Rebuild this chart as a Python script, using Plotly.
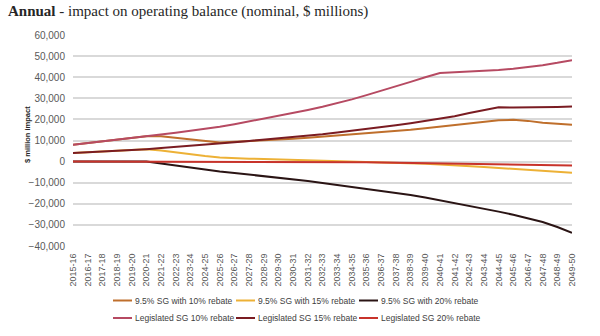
import plotly.graph_objects as go

# Financial years on the category axis
years = [
    "2015-16", "2016-17", "2017-18", "2018-19", "2019-20", "2020-21", "2021-22",
    "2022-23", "2023-24", "2024-25", "2025-26", "2026-27", "2027-28", "2028-29",
    "2029-30", "2030-31", "2031-32", "2032-33", "2033-34", "2034-35", "2035-36",
    "2036-37", "2037-38", "2038-39", "2039-40", "2040-41", "2041-42", "2042-43",
    "2043-44", "2044-45", "2045-46", "2046-47", "2047-48", "2048-49", "2049-50",
]

# Annual impact on operating balance, $ millions
sg95_rebate10 = [
    8000, 8800, 9500, 10200, 11000, 12000, 12000, 11200, 10400, 9700, 9100,
    9400, 9700, 10000, 10400, 10800, 11300, 11800, 12300, 12800, 13300, 13900,
    14500, 15100, 15800, 16500, 17300, 18100, 18900, 19600, 19800, 19300, 18400,
    17800, 17500,
]
sg95_rebate15 = [
    4100, 4400, 4700, 5000, 5400, 5900, 5300, 4300, 3400, 2600, 2000,
    1600, 1400, 1200, 1000, 900, 700, 600, 400, 200, 0, -200,
    -400, -700, -1000, -1400, -1700, -2100, -2500, -3000, -3400, -3900, -4400,
    -4800, -5300,
]
sg95_rebate20 = [
    0, 0, 0, 0, 0, 0, -900, -1900, -2900, -3800, -4700,
    -5400, -6100, -6800, -7500, -8300, -9200, -10100, -11000, -11900, -12800, -13700,
    -14700, -15800, -17000, -18300, -19500, -20800, -22200, -23700, -25200, -26800, -28600,
    -31000, -33700,
]
legislated_rebate10 = [
    8000, 8800, 9500, 10200, 11000, 12000, 12900, 13700, 14600, 15500, 16500,
    17700, 19000, 20300, 21700, 23100, 24500, 26000, 27700, 29500, 31500, 33500,
    35600, 37800, 40000, 42000, 42300, 42600, 43000, 43400, 44000, 44800, 45700,
    46800, 48100,
]
legislated_rebate15 = [
    4100, 4400, 4700, 5000, 5400, 5900, 6400, 6900, 7400, 8000, 8600,
    9200, 9800, 10400, 11000, 11600, 12300, 13000, 13800, 14600, 15400, 16300,
    17200, 18200, 19200, 20300, 21500, 23000, 24500, 25800, 25600, 25600, 25700,
    25900, 26100,
]
legislated_rebate20 = [
    0, 0, 0, 0, 0, 0, 0, 0, 0, 0, 0,
    0, 0, 0, 0, 0, 0, 0, -100, -200, -300, -400,
    -500, -600, -800, -900, -1000, -1100, -1200, -1300, -1400, -1500, -1600,
    -1800, -1900,
]

series = [
    ("9.5% SG with 10% rebate", sg95_rebate10, "#BF6F2C"),
    ("9.5% SG with 15% rebate", sg95_rebate15, "#EDB136"),
    ("9.5% SG with 20% rebate", sg95_rebate20, "#2A1414"),
    ("Legislated SG 10% rebate", legislated_rebate10, "#B64A62"),
    ("Legislated SG 15% rebate", legislated_rebate15, "#7A1C22"),
    ("Legislated SG 20% rebate", legislated_rebate20, "#C8332B"),
]

# Plot-area geometry in pixels, used to place the key below the axis
W, H = 600, 336
L, R, T, B = 73, 28, 35, 90
PW, PH = W - L - R, H - T - B


def px_x(px):
    return (px - L) / PW


def px_y(py):
    return (H - B - py) / PH


fig = go.Figure()
for name, vals, color in series:
    fig.add_trace(go.Scatter(
        x=years, y=vals, name=name, mode="lines",
        line=dict(color=color, width=2),
        showlegend=False,
    ))

# Two-row key: three entries per row
key_cols = [(113, 132, 133), (236, 255, 256), (359, 378, 379)]
key_rows = [300.5, 318]
shapes, annotations = [], []
for k, (name, _, color) in enumerate(series):
    x0, x1, xt = key_cols[k % 3]
    yy = key_rows[k // 3]
    shapes.append(dict(
        type="line", xref="paper", yref="paper",
        x0=px_x(x0), x1=px_x(x1), y0=px_y(yy), y1=px_y(yy),
        line=dict(color=color, width=2),
    ))
    annotations.append(dict(
        text=name, xref="paper", yref="paper", x=px_x(xt), y=px_y(yy),
        xanchor="left", yanchor="middle", showarrow=False,
        font=dict(family="Liberation Sans, Arial, sans-serif", size=8.5, color="#404040"),
    ))

annotations.append(dict(
    text="<b>$ million impact</b>", xref="paper", yref="paper",
    x=px_x(27), y=px_y(135), xanchor="center", yanchor="middle",
    textangle=-90, showarrow=False,
    font=dict(family="Liberation Sans, Arial, sans-serif", size=7.5, color="#262626"),
))

fig.update_layout(
    width=W, height=H,
    margin=dict(l=L, r=R, t=T, b=B, autoexpand=False),
    paper_bgcolor="white", plot_bgcolor="white",
    font=dict(family="Liberation Sans, Arial, sans-serif", color="#595959"),
    title=dict(
        text="<b>Annual</b> - impact on operating balance (nominal, $ millions)",
        x=8 / W, xanchor="left", xref="container",
        y=1 - 11 / H, yanchor="middle", yref="container",
        font=dict(family="Liberation Serif, Georgia, serif", size=15, color="#262626"),
    ),
    shapes=shapes,
    annotations=annotations,
    showlegend=False,
)

fig.update_xaxes(
    type="category", tickangle=-90,
    tickfont=dict(size=9, color="#595959"),
    showgrid=False, showline=False, ticks="outside", ticklen=3,
    tickcolor="rgba(0,0,0,0)", automargin=False,
)
fig.update_yaxes(
    range=[-40000, 60000], dtick=10000, tickformat=",",
    tickfont=dict(size=10, color="#595959"),
    showgrid=True, gridcolor="#D9D9D9", gridwidth=1.5,
    zeroline=True, zerolinecolor="#D9D9D9", zerolinewidth=1.5,
    ticks="outside", ticklen=5, tickcolor="rgba(0,0,0,0)", automargin=False,
)

fig.write_html("out.html")
